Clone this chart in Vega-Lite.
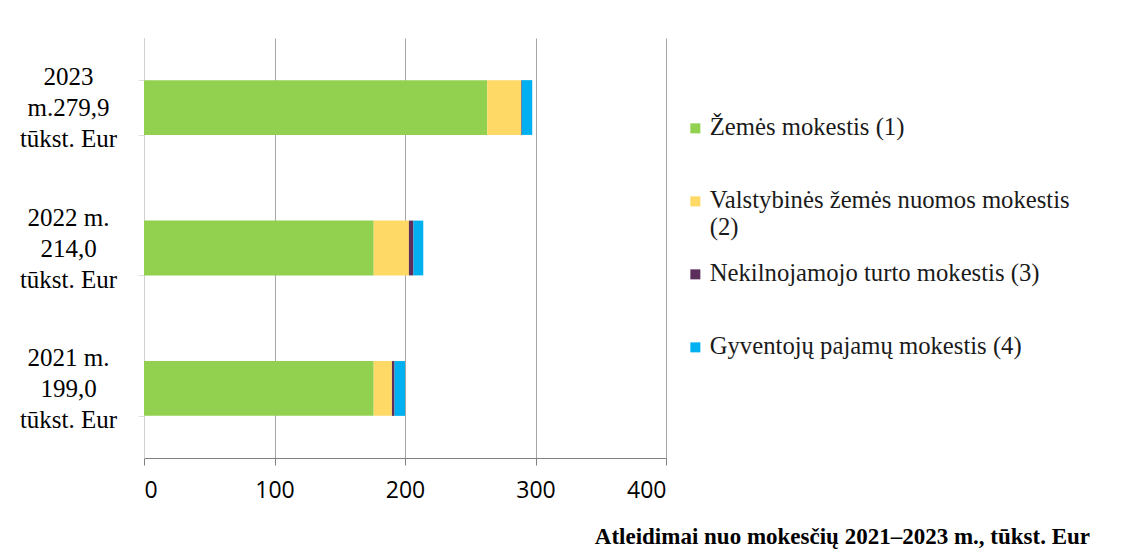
{
  "$schema": "https://vega.github.io/schema/vega-lite/v6.json",
  "autosize": {"type": "none"},
  "width": 522,
  "height": 420,
  "padding": {"left": 144, "top": 38, "right": 458, "bottom": 96},
  "background": "white",
  "data": {"values": [
    {"year": "2023|m.279,9|tūkst. Eur", "tax": "Žemės mokestis (1)", "k": 1, "value": 263},
    {"year": "2023|m.279,9|tūkst. Eur", "tax": "Valstybinės žemės nuomos mokestis (2)", "k": 2, "value": 26},
    {"year": "2023|m.279,9|tūkst. Eur", "tax": "Nekilnojamojo turto mokestis (3)", "k": 3, "value": 0.5},
    {"year": "2023|m.279,9|tūkst. Eur", "tax": "Gyventojų pajamų mokestis (4)", "k": 4, "value": 8},
    {"year": "2022 m.|214,0|tūkst. Eur", "tax": "Žemės mokestis (1)", "k": 1, "value": 176},
    {"year": "2022 m.|214,0|tūkst. Eur", "tax": "Valstybinės žemės nuomos mokestis (2)", "k": 2, "value": 27},
    {"year": "2022 m.|214,0|tūkst. Eur", "tax": "Nekilnojamojo turto mokestis (3)", "k": 3, "value": 3.5},
    {"year": "2022 m.|214,0|tūkst. Eur", "tax": "Gyventojų pajamų mokestis (4)", "k": 4, "value": 7.5},
    {"year": "2021 m.|199,0|tūkst. Eur", "tax": "Žemės mokestis (1)", "k": 1, "value": 176},
    {"year": "2021 m.|199,0|tūkst. Eur", "tax": "Valstybinės žemės nuomos mokestis (2)", "k": 2, "value": 14},
    {"year": "2021 m.|199,0|tūkst. Eur", "tax": "Nekilnojamojo turto mokestis (3)", "k": 3, "value": 2},
    {"year": "2021 m.|199,0|tūkst. Eur", "tax": "Gyventojų pajamų mokestis (4)", "k": 4, "value": 8}
  ]},
  "title": {
    "text": "Atleidimai nuo mokesčių 2021–2023 m., tūkst. Eur",
    "orient": "bottom",
    "anchor": "end",
    "align": "right",
    "frame": "group",
    "dx": 424,
    "offset": 24,
    "font": "Liberation Serif",
    "fontSize": 23,
    "fontWeight": "bold",
    "color": "#000000"
  },
  "mark": {"type": "bar"},
  "encoding": {
    "y": {
      "field": "year",
      "type": "nominal",
      "sort": ["2023|m.279,9|tūkst. Eur", "2022 m.|214,0|tūkst. Eur", "2021 m.|199,0|tūkst. Eur"],
      "scale": {"paddingInner": 0.61, "paddingOuter": 0.3},
      "axis": {
        "title": null,
        "labelExpr": "split(datum.label, '|')",
        "labelAlign": "center",
        "labelBaseline": "middle",
        "labelPadding": 70,
        "labelOffset": -31,
        "labelFont": "Liberation Serif",
        "labelFontSize": 25,
        "labelLineHeight": 31,
        "labelColor": "#000000",
        "tickSize": 6,
        "tickBand": "extent",
        "tickColor": "#e0e0e0",
        "domainColor": "#d0d0d0",
        "grid": false
      }
    },
    "x": {
      "field": "value",
      "type": "quantitative",
      "stack": "zero",
      "scale": {"domain": [0, 400]},
      "axis": {
        "title": null,
        "values": [0, 100, 200, 300, 400],
        "labelFont": "Open Sans",
        "labelFontSize": 23,
        "labelColor": "#000000",
        "labelPadding": 14,
        "tickSize": 7,
        "tickColor": "#808080",
        "domainColor": "#808080",
        "gridColor": "#a6a6a6",
        "grid": true
      }
    },
    "color": {
      "field": "tax",
      "type": "nominal",
      "scale": {
        "domain": ["Žemės mokestis (1)", "Valstybinės žemės nuomos mokestis (2)", "Nekilnojamojo turto mokestis (3)", "Gyventojų pajamų mokestis (4)"],
        "range": ["#92d050", "#ffd966", "#5b2e5c", "#00b0f0"]
      },
      "legend": {
        "title": null,
        "orient": "none",
        "legendX": 539,
        "legendY": 78,
        "symbolType": "square",
        "symbolSize": 100,
        "symbolStrokeWidth": 0,
        "labelFont": "Liberation Serif",
        "labelFontSize": 24.7,
        "labelLineHeight": 28,
        "labelColor": "#1a1a1a",
        "labelLimit": 500,
        "labelOffset": 2,
        "rowPadding": 21,
        "labelExpr": "datum.label == 'Valstybinės žemės nuomos mokestis (2)' ? ['Valstybinės žemės nuomos mokestis', '(2)'] : [datum.label, '']"
      }
    },
    "order": {"field": "k", "type": "quantitative"}
  },
  "config": {"view": {"stroke": null}}
}
